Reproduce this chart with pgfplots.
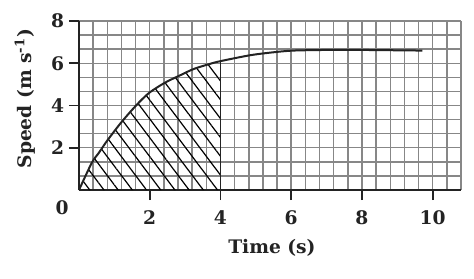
\documentclass[border=0pt]{standalone}
\usepackage{fontspec}
\setmainfont{DejaVu Serif}
\usepackage{pgfplots}
\pgfplotsset{compat=1.18}
\usetikzlibrary{patterns.meta}
\definecolor{ink}{RGB}{35,35,35}
\definecolor{gridc}{RGB}{135,135,135}
\pgfplotstableread{
t v
0 0
0.36 1.28
0.57 1.78
0.76 2.25
0.97 2.72
1.18 3.17
1.44 3.68
1.71 4.17
2.0 4.62
2.43 5.08
2.86 5.43
3.23 5.72
3.66 5.95
4.0 6.10
}\hatchdata
\pgfplotstableread{
t v
0 0
0.36 1.28
0.57 1.78
0.76 2.25
0.97 2.72
1.18 3.17
1.44 3.68
1.71 4.17
2.0 4.62
2.43 5.08
2.86 5.43
3.23 5.72
3.66 5.95
4.0 6.10
4.84 6.38
5.5 6.52
6.06 6.60
7.0 6.63
8.0 6.63
9.71 6.60
}\curvedata
\begin{document}
\begin{tikzpicture}
\path[use as bounding box] (-59.25pt,-66pt) rectangle (296.25pt,142.5pt);
\begin{axis}[
  at={(0,0)}, anchor=south west,
  scale only axis, width=286.5pt, height=126.75pt,
  xmin=0, xmax=10.8, ymin=0, ymax=8,
  axis x line=bottom, axis y line=left,
  axis line style={-, line width=1.4pt, ink},
  xtick={2,4,6,8,10}, ytick={2,4,6,8},
  minor xtick={0,0.4,0.8,1.2,1.6,2.4,2.8,3.2,3.6,4.4,4.8,5.2,5.6,6.4,6.8,7.2,7.6,8.4,8.8,9.2,9.6,10.4,10.8},
  minor ytick={0.6667,1.3333,2.6667,3.3333,4.6667,5.3333,6.6667,7.3333},
  grid=both,
  grid style={gridc, line width=1.1pt},
  major grid style={gridc, line width=1.1pt},
  minor grid style={gridc, line width=1.1pt},
  tick align=outside,
  major tick length=7.5pt, minor tick length=0pt,
  tick style={line width=1.4pt, ink},
  /pgf/number format/assume math mode=true,
  ticklabel style={font=\bfseries\fontsize{14}{16}\selectfont, text=ink},
  xticklabel style={anchor=center, yshift=-13.5pt},
  yticklabel style={anchor=center, xshift=-8.5pt},
  xlabel={Time (s)},
  ylabel={Speed (m s\textsuperscript{-1})},
  label style={font=\bfseries\fontsize{14}{16}\selectfont, text=ink},
  xlabel style={at={(axis description cs:0.505,0)}, anchor=center, yshift=-43.5pt},
  ylabel style={at={(axis description cs:-0.1414,0.54)}, anchor=center},
  clip=false,
]
\addplot[draw=none, pattern={Lines[angle=-53, distance=8.5pt, line width=0.9pt]}, pattern color=black] table[x=t,y=v]{\hatchdata} -- (axis cs:4,0) -- cycle;
\addplot[line width=1.4pt, ink] coordinates {(4,0) (4,6.10)};
\addplot[line width=1.5pt, ink, smooth] table[x=t,y=v]{\curvedata};
\node[font=\bfseries\fontsize{14}{16}\selectfont, text=ink] at (axis cs:-0.48,-0.85) {0};
\end{axis}
\end{tikzpicture}
\end{document}
